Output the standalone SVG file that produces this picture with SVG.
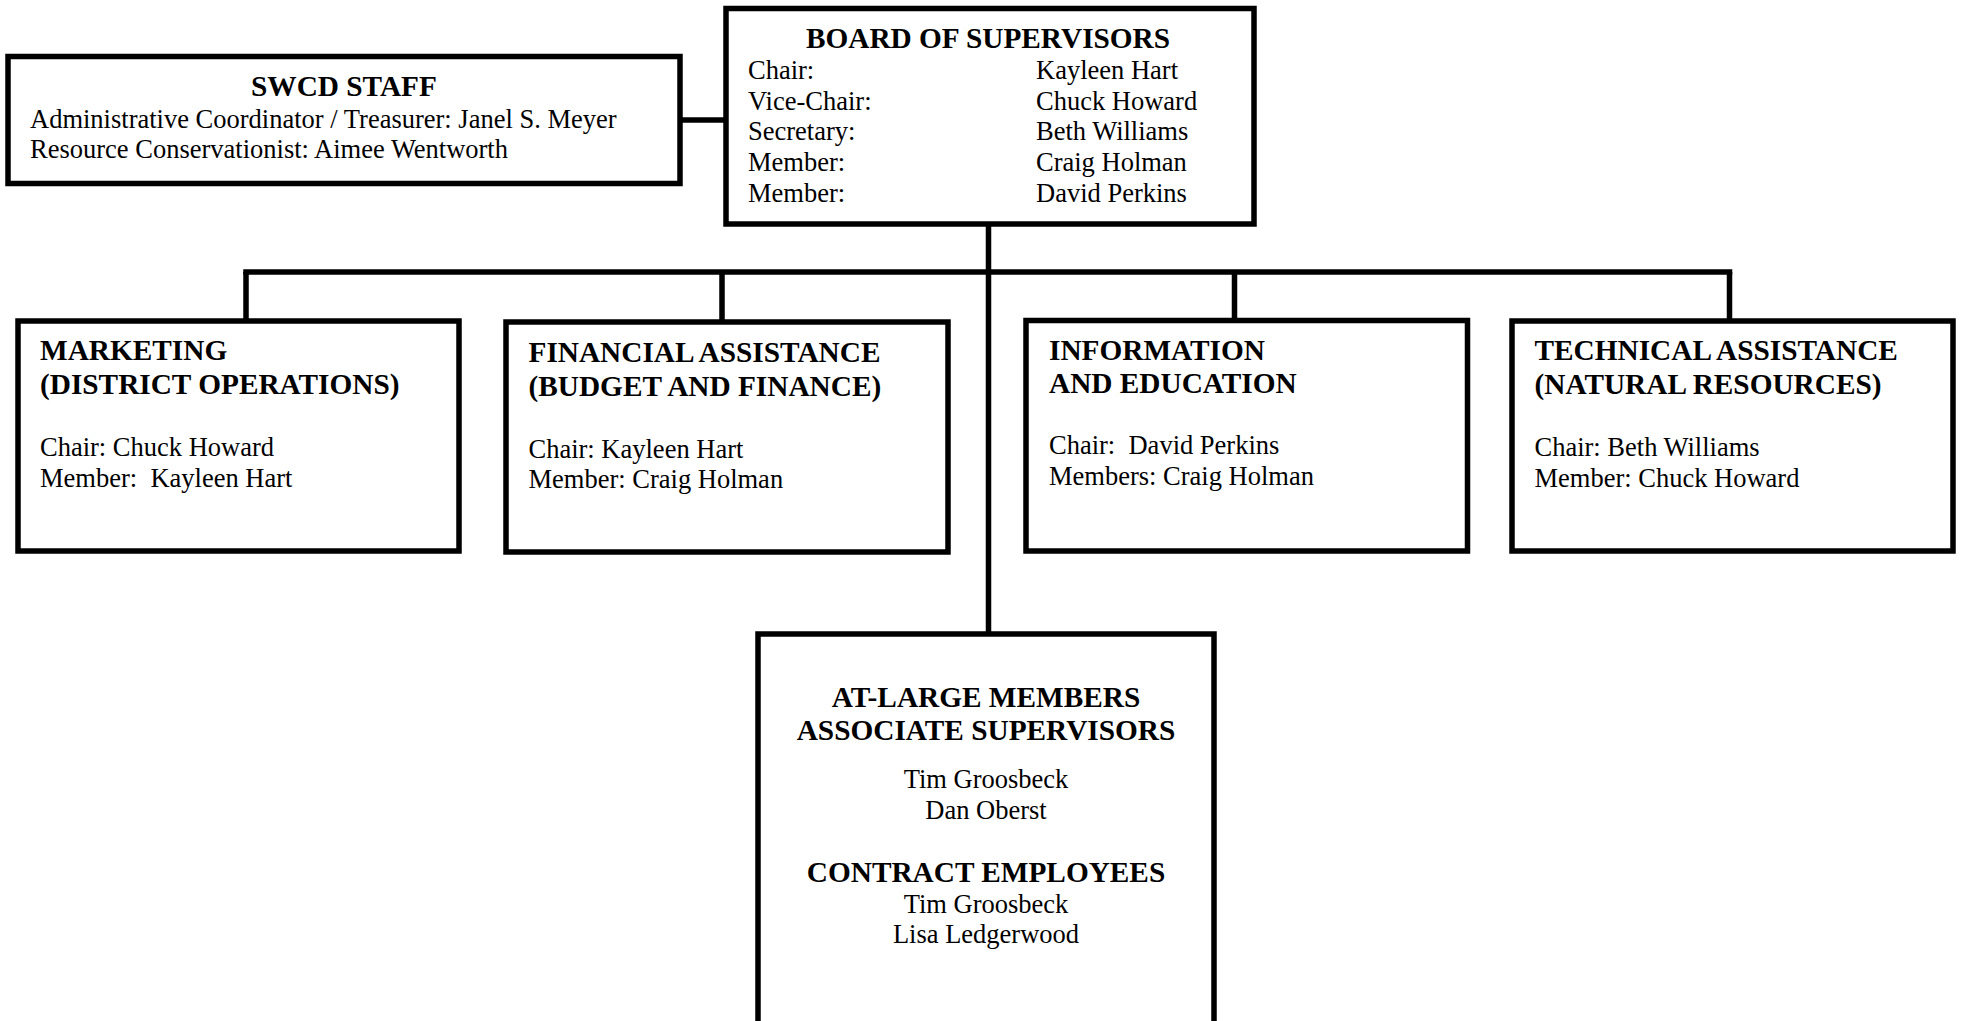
<svg xmlns="http://www.w3.org/2000/svg" width="1961" height="1021" viewBox="0 0 1961 1021">
<style>
.box{fill:#fff;stroke:#000;stroke-width:5.5}
.ln{fill:none;stroke:#000;stroke-width:5.5}
text{font-family:"Liberation Serif","Times New Roman",serif;fill:#000}
.t{font-size:29.3px;font-weight:bold}
.b{font-size:26.5px}
.c{text-anchor:middle}
</style>
<rect width="1961" height="1021" fill="#fff"/>
<g id="connectors">
<path class="ln" d="M680 120H726"/>
<path class="ln" d="M988.5 224V634"/>
<path class="ln" d="M243.25 272H1732.25"/>
<path class="ln" d="M246 272V321M722 272V322M1234.5 272V321M1729.5 272V321"/>
</g>
<g id="swcd-staff">
<rect class="box" x="8" y="56.5" width="672" height="127"/>
<text class="t c" x="344" y="96">SWCD STAFF</text>
<text class="b" x="30" y="127.5">Administrative Coordinator / Treasurer: Janel S. Meyer</text>
<text class="b" x="30" y="157.5">Resource Conservationist: Aimee Wentworth</text>
</g>
<g id="board">
<rect class="box" x="726" y="8.5" width="528" height="215.5"/>
<text class="t c" x="988" y="47.5">BOARD OF SUPERVISORS</text>
<text class="b" x="748" y="79">Chair:</text>
<text class="b" x="748" y="109.5">Vice-Chair:</text>
<text class="b" x="748" y="140">Secretary:</text>
<text class="b" x="748" y="170.5">Member:</text>
<text class="b" x="748" y="201.5">Member:</text>
<text class="b" x="1036" y="79">Kayleen Hart</text>
<text class="b" x="1036" y="109.5">Chuck Howard</text>
<text class="b" x="1036" y="140">Beth Williams</text>
<text class="b" x="1036" y="170.5">Craig Holman</text>
<text class="b" x="1036" y="201.5">David Perkins</text>
</g>
<g id="marketing">
<rect class="box" x="18" y="321" width="441" height="230"/>
<text class="t" x="40" y="360">MARKETING</text>
<text class="t" x="40" y="394">(DISTRICT OPERATIONS)</text>
<text class="b" x="40" y="456" xml:space="preserve">Chair: Chuck Howard</text>
<text class="b" x="40" y="486.5" xml:space="preserve">Member:  Kayleen Hart</text>
</g>
<g id="financial">
<rect class="box" x="506" y="322" width="442" height="230"/>
<text class="t" x="528.5" y="361.5">FINANCIAL ASSISTANCE</text>
<text class="t" x="528.5" y="396">(BUDGET AND FINANCE)</text>
<text class="b" x="528.5" y="457.5">Chair: Kayleen Hart</text>
<text class="b" x="528.5" y="488">Member: Craig Holman</text>
</g>
<g id="information">
<rect class="box" x="1026" y="320.5" width="441.5" height="230.5"/>
<text class="t" x="1049" y="359.5">INFORMATION</text>
<text class="t" x="1049" y="393">AND EDUCATION</text>
<text class="b" x="1049" y="454" xml:space="preserve">Chair:  David Perkins</text>
<text class="b" x="1049" y="485">Members: Craig Holman</text>
</g>
<g id="technical">
<rect class="box" x="1512" y="321" width="441" height="230"/>
<text class="t" x="1534.5" y="360">TECHNICAL ASSISTANCE</text>
<text class="t" x="1534.5" y="394">(NATURAL RESOURCES)</text>
<text class="b" x="1534.5" y="456">Chair: Beth Williams</text>
<text class="b" x="1534.5" y="486.5">Member: Chuck Howard</text>
</g>
<g id="at-large">
<rect class="box" x="758" y="634" width="456" height="420"/>
<text class="t c" x="986" y="706.5">AT-LARGE MEMBERS</text>
<text class="t c" x="986" y="740">ASSOCIATE SUPERVISORS</text>
<text class="b c" x="986" y="788">Tim Groosbeck</text>
<text class="b c" x="986" y="818.5">Dan Oberst</text>
<text class="t c" x="986" y="881.5">CONTRACT EMPLOYEES</text>
<text class="b c" x="986" y="912.5">Tim Groosbeck</text>
<text class="b c" x="986" y="943">Lisa Ledgerwood</text>
</g>
</svg>
